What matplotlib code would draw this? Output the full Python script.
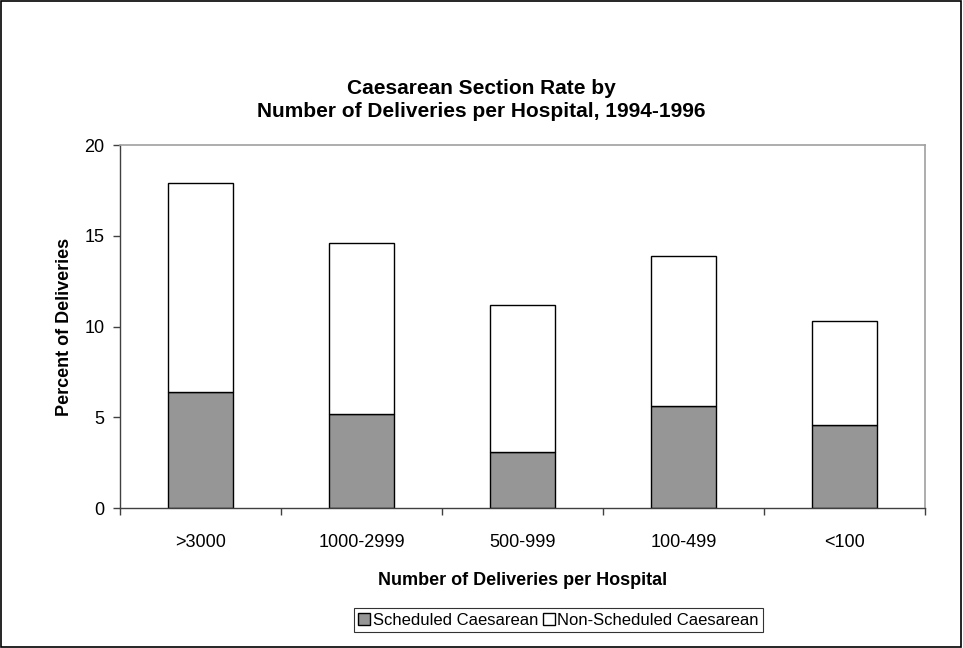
import numpy as np
import matplotlib.pyplot as plt
from matplotlib.patches import Rectangle

plt.rcParams['font.family'] = ['Liberation Sans', 'DejaVu Sans']

# data
categories = ['>3000', '1000-2999', '500-999', '100-499', '<100']
total = [17.9, 14.6, 11.2, 13.9, 10.3]
scheduled = [6.4, 5.2, 3.1, 5.6, 4.6]
non_scheduled = [t - s for t, s in zip(total, scheduled)]

fig = plt.figure(figsize=(9.63, 6.48), dpi=100)
ax = fig.add_axes([0.1246, 0.216, 0.8359, 0.56])

x = np.arange(len(categories))
ax.bar(x, scheduled, width=0.4, color='#969696', edgecolor='black', linewidth=1,
       label='Scheduled Caesarean')
ax.bar(x, non_scheduled, width=0.4, bottom=scheduled, color='white', edgecolor='black',
       linewidth=1, label='Non-Scheduled Caesarean')

ax.set_xlim(-0.5, len(categories) - 0.5)
ax.set_ylim(0, 20)
ax.set_yticks([0, 5, 10, 15, 20])
ax.set_xticks(x)
ax.set_xticklabels(categories)
ax.set_xticks(np.arange(-0.5, len(categories)), minor=True)
ax.tick_params(axis='x', which='major', length=0, pad=19, labelsize=13)
ax.tick_params(axis='x', which='minor', length=5, width=1, color='#404040')
ax.tick_params(axis='y', length=5, width=1, color='#404040', labelsize=13, pad=6)

for s in ['left', 'bottom']:
    ax.spines[s].set_color('#404040')
    ax.spines[s].set_linewidth(1)
for s in ['top', 'right']:
    ax.spines[s].set_color('#a0a0a0')
    ax.spines[s].set_linewidth(1.2)

ax.set_ylabel('Percent of Deliveries', fontsize=13, fontweight='bold', labelpad=8)
ax.set_xlabel('Number of Deliveries per Hospital', fontsize=13, fontweight='bold', labelpad=15)

fig.text(0.5, 0.846, 'Caesarean Section Rate by\nNumber of Deliveries per Hospital, 1994-1996',
         ha='center', va='center', fontsize=15, fontweight='bold', linespacing=1.3)

leg = fig.legend(loc='center', bbox_to_anchor=(0.58, 0.043), ncol=2, fontsize=12,
                 frameon=True, fancybox=False, handlelength=0.7, handleheight=0.7,
                 handletextpad=0.15, columnspacing=0.3, borderpad=0.25)
leg.get_frame().set_edgecolor('black')
leg.get_frame().set_linewidth(0.8)

# outer frame
fig.patches.append(Rectangle((0.001, 0.001), 0.997, 0.997, transform=fig.transFigure,
                             fill=False, edgecolor='black', linewidth=1.2))

fig.savefig('out.png', dpi=100)
